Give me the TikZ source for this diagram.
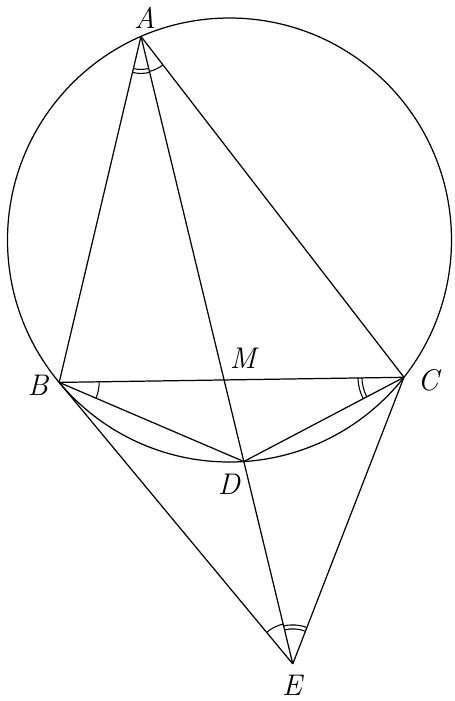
\documentclass[tikz,border=0pt]{standalone}
\usetikzlibrary{calc,angles}
\begin{document}
\begin{tikzpicture}[x=0.02cm,y=0.02cm,
  geo/.style={line width=0.7pt},
  lbl/.style={font=\fontsize{17}{20}\selectfont\itshape, inner sep=0pt},
  mk/.style={draw, line width=0.6pt}]
\useasboundingbox (0,0) rectangle (455,-701);
\coordinate (O) at (229.5,-240);
\coordinate (A) at ($(O)+(113.5:222)$);
\coordinate (B) at ($(O)+(219.9:222)$);
\coordinate (C) at ($(O)+(-38.2:222)$);
\coordinate (D) at ($(O)+(-86.3:222)$);
\coordinate (E) at ($(A)!1.476!(D)$);
\coordinate (M) at (intersection of A--D and B--C);
\draw[geo] (O) circle (222);
\draw[geo] (A) -- (B);
\draw[geo] (A) -- (C);
\draw[geo] (A) -- (E);
\draw[geo] (B) -- (C);
\draw[geo] (B) -- (D);
\draw[geo] (C) -- (D);
\draw[geo] (B) -- (E);
\draw[geo] (C) -- (E);
% angle marks
\pic[mk, angle radius=0.66cm] {angle = B--A--D};
\pic[mk, angle radius=0.74cm] {angle = B--A--D};
\pic[mk, angle radius=0.72cm] {angle = D--A--C};
\pic[mk, angle radius=0.80cm] {angle = D--B--C};
\pic[mk, angle radius=0.84cm] {angle = B--C--D};
\pic[mk, angle radius=0.92cm] {angle = B--C--D};
\pic[mk, angle radius=0.82cm] {angle = A--E--B};
\pic[mk, angle radius=0.70cm] {angle = C--E--A};
\pic[mk, angle radius=0.78cm] {angle = C--E--A};
% labels
\node[lbl] (lA) at (145,-18) {A};
\node[lbl] (lB) at (38,-385) {B};
\node[lbl] (lC) at (428,-380) {C};
\node[lbl] (lM) at (243,-358) {M};
\node[lbl] (lD) at (229,-484) {D};
\node[lbl] (lE) at (292,-685) {E};
\end{tikzpicture}
\end{document}
